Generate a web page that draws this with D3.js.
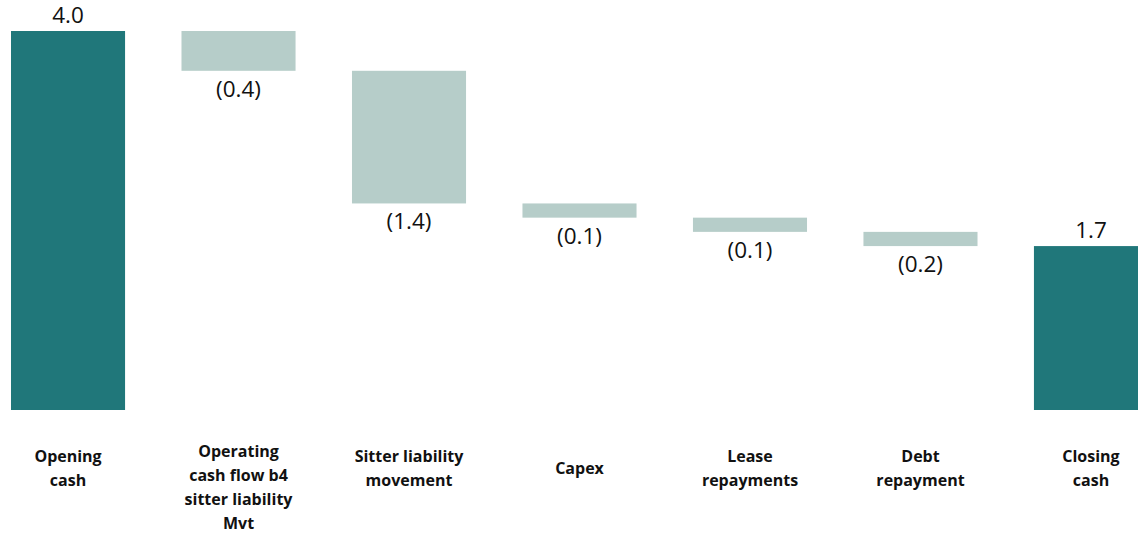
<!DOCTYPE html>
<html><head><meta charset="utf-8">
<script src="https://cdn.jsdelivr.net/npm/d3@7"></script>
<style>body{margin:0;background:#fff}svg{display:block}</style>
</head><body>
<svg id="c" width="1138" height="533"></svg>
<script>
const categories = [["Opening","cash"],["Operating","cash flow b4","sitter liability","Mvt"],["Sitter liability","movement"],["Capex"],["Lease","repayments"],["Debt","repayment"],["Closing","cash"]];
const kinds = ["total","delta","delta","delta","delta","delta","total"];
const values = [4.0, -0.42, -1.40, -0.15, -0.15, -0.15, 1.73];
const valueLabels = ["4.0","(0.4)","(1.4)","(0.1)","(0.1)","(0.2)","1.7"];

const svg = d3.select("#c");
const ids = categories.map((c,i)=>i);
const x = d3.scaleBand().domain(ids).range([11,1148]).paddingInner(0.331).paddingOuter(0);
const y = d3.scaleLinear().domain([0,4]).range([410,31]);

let run = 0;
const bars = values.map((v,i)=>{
  let y0,y1;
  if (kinds[i]==="total"){ y0=0; y1=v; run=v; }
  else { y0=run+v; y1=run; run=run+v; }
  return {i,y0,y1,kind:kinds[i],label:valueLabels[i]};
});

svg.selectAll("rect.bar").data(bars).join("rect")
  .attr("class","bar")
  .attr("x",d=>x(d.i)).attr("width",x.bandwidth())
  .attr("y",d=>y(d.y1)).attr("height",d=>y(d.y0)-y(d.y1))
  .attr("fill",d=>d.kind==="total"?"#20777A":"#B6CDC9");

svg.selectAll("text.val").data(bars).join("text")
  .attr("class","val")
  .attr("x",d=>x(d.i)+x.bandwidth()/2)
  .attr("y",d=>d.kind==="total"? y(d.y1)-8 : y(d.y0)+26)
  .attr("text-anchor","middle")
  .attr("font-family","'Open Sans', sans-serif").attr("font-size",22.5).attr("fill","#111")
  .text(d=>d.label);

const g = svg.selectAll("text.cat").data(categories).join("text")
  .attr("class","cat")
  .attr("text-anchor","middle")
  .attr("font-family","'Open Sans', sans-serif").attr("font-weight","bold").attr("font-size",16).attr("fill","#111");
g.each(function(lines,i){
  const cx = x(i)+x.bandwidth()/2;
  const first = Math.max(452, 469-(lines.length-1)*12);
  d3.select(this).selectAll("tspan").data(lines).join("tspan")
    .attr("x",cx).attr("y",(l,j)=>first+j*24+5).text(l=>l);
});
</script>
</body></html>
